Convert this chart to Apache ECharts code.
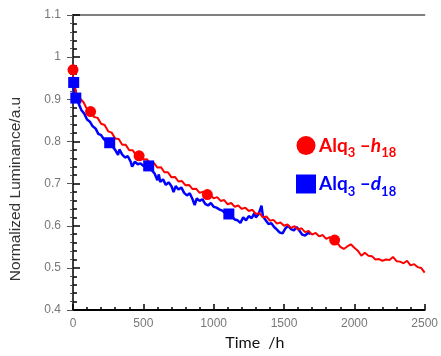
<!DOCTYPE html>
<html>
<head>
<meta charset="utf-8">
<script src="https://cdn.jsdelivr.net/npm/echarts@6/dist/echarts.min.js"></script>
<style>
  html, body { margin: 0; padding: 0; background: #fff; }
  #chart { width: 441px; height: 356px; }
</style>
</head>
<body>
<div id="chart"></div>
<script>
// red curve (Alq3-h18), sampled every 25 h
const redHours = [];
for (let h = 0; h <= 2500; h += 25) redHours.push(h);
const redValues = [
  0.955, 0.912, 0.902, 0.893, 0.876, 0.872, 0.858, 0.856, 0.842, 0.839,
  0.824, 0.821, 0.807, 0.806, 0.792, 0.792, 0.779, 0.779, 0.767, 0.768,
  0.757, 0.758, 0.747, 0.749, 0.738, 0.739, 0.727, 0.727, 0.715, 0.716,
  0.705, 0.706, 0.696, 0.697, 0.687, 0.688, 0.678, 0.681, 0.673, 0.674,
  0.665, 0.668, 0.659, 0.661, 0.651, 0.654, 0.645, 0.648, 0.640, 0.643,
  0.635, 0.638, 0.628, 0.630, 0.620, 0.622, 0.612, 0.614, 0.605, 0.608,
  0.600, 0.603, 0.595, 0.599, 0.591, 0.594, 0.585, 0.588, 0.579, 0.583,
  0.575, 0.578, 0.569, 0.573, 0.566, 0.561, 0.550, 0.545, 0.551, 0.556,
  0.548, 0.541, 0.529, 0.536, 0.529, 0.528, 0.520, 0.521, 0.517, 0.520,
  0.519, 0.526, 0.516, 0.515, 0.511, 0.517, 0.506, 0.509, 0.502, 0.500,
  0.489
];

// blue curve (Alq3-d18)
const blueHours = [
  0, 10, 20, 40, 60, 80, 100, 120, 140, 160, 180, 200, 220, 240, 261, 280, 300, 320, 330, 350,
  370, 390, 410, 420, 440, 460, 480, 500, 538, 560, 580, 600, 610, 620, 640, 660, 680, 700, 715, 730,
  750, 770, 790, 810, 830, 850, 865, 880, 900, 920, 940, 960, 980, 1000, 1020, 1040, 1060, 1080, 1108, 1130,
  1150, 1170, 1190, 1210, 1230, 1250, 1270, 1290, 1300, 1320, 1340, 1350, 1370, 1390, 1410, 1430, 1450, 1470, 1490, 1510,
  1530, 1550, 1570, 1590, 1610, 1630, 1650, 1670, 1690
];
const blueValues = [
  0.940, 0.915, 0.903, 0.890, 0.874, 0.866, 0.852, 0.847, 0.836, 0.831, 0.818, 0.815, 0.805, 0.800, 0.797, 0.788, 0.780, 0.768, 0.781, 0.769,
  0.762, 0.765, 0.752, 0.740, 0.752, 0.746, 0.748, 0.742, 0.742, 0.732, 0.724, 0.708, 0.722, 0.704, 0.710, 0.697, 0.703, 0.694, 0.680, 0.694,
  0.686, 0.691, 0.678, 0.672, 0.677, 0.663, 0.649, 0.665, 0.659, 0.663, 0.652, 0.648, 0.654, 0.645, 0.643, 0.639, 0.636, 0.631, 0.628, 0.622,
  0.615, 0.613, 0.607, 0.620, 0.613, 0.623, 0.618, 0.630, 0.620, 0.628, 0.648, 0.623, 0.613, 0.604, 0.606, 0.597, 0.591, 0.584, 0.582, 0.594,
  0.600, 0.592, 0.589, 0.597, 0.588, 0.579, 0.577, 0.583, 0.581
];

// marker points
const redMarkerHours = [0, 125, 470, 955, 1860];
const redMarkerValues = [0.970, 0.871, 0.766, 0.674, 0.566];
const blueMarkerHours = [5, 20, 261, 538, 1108];
const blueMarkerValues = [0.940, 0.903, 0.797, 0.742, 0.628];

const xTicks = { min: 0, max: 2500, interval: 500 };
const yTicks = { min: 0.4, max: 1.1, interval: 0.1 };

const RED = '#ff0000';
const BLUE = '#0000ff';
const zip = (xs, ys) => xs.map((x, i) => [x, ys[i]]);

const chart = echarts.init(document.getElementById('chart'));

const labelFont = { color: '#777', fontSize: 12, fontFamily: 'Liberation Sans, Arial, sans-serif' };
const legendRich = (c) => ({
  fontFamily: 'Lato, sans-serif', fontWeight: 'bold', color: c
});

chart.setOption({
  animation: false,
  backgroundColor: '#fff',
  grid: { left: 73, right: 7, top: 15, bottom: 41 },
  // y axis title, placed by hand since nameTextStyle padding would not move it cleanly
  graphic: [{
    type: 'text', x: 16, y: 189, rotation: Math.PI / 2,
    style: {
      text: 'Normalized Luminance/a.u', align: 'center', verticalAlign: 'middle',
      font: '15.5px "Liberation Sans", Arial, sans-serif', fill: '#333'
    }
  }],
  xAxis: [{
    type: 'value', position: 'bottom',
    min: xTicks.min, max: xTicks.max, interval: xTicks.interval,
    axisLine: { lineStyle: { color: '#000', width: 2 } },
    axisTick: { inside: true, length: 6, lineStyle: { color: '#000', width: 1.5 } },
    minorTick: { show: true, splitNumber: 5, length: 3, lineStyle: { color: '#000', width: 1.5 } },
    axisLabel: Object.assign({ margin: 8, formatter: (v) => String(v) }, labelFont),
    splitLine: { show: false },
    name: 'Time  /h', nameLocation: 'middle', nameGap: 24,
    nameTextStyle: { fontFamily: 'Lato, sans-serif', fontSize: 16, color: '#111', padding: [0, 0, 0, 12] }
  }, {
    type: 'value', position: 'top',
    min: xTicks.min, max: xTicks.max, interval: xTicks.interval,
    axisLine: { lineStyle: { color: '#555', width: 1.5 } },
    axisTick: { show: false }, axisLabel: { show: false }, splitLine: { show: false }
  }],
  yAxis: [{
    type: 'value', position: 'left',
    min: yTicks.min, max: yTicks.max, interval: yTicks.interval,
    axisLine: { lineStyle: { color: '#000', width: 2 } },
    axisTick: { inside: true, length: 7, lineStyle: { color: '#000', width: 1.5 } },
    minorTick: { show: true, splitNumber: 5, length: 4, lineStyle: { color: '#000', width: 1.5 } },
    axisLabel: Object.assign({ margin: 12 }, labelFont),
    splitLine: { show: false }
  }, {
    type: 'value', position: 'right',
    min: yTicks.min, max: yTicks.max, interval: yTicks.interval,
    axisLine: { lineStyle: { color: '#555', width: 1.5 } },
    axisTick: { inside: true, length: 6, lineStyle: { color: '#555' } },
    minorTick: { show: true, splitNumber: 5, length: 3, lineStyle: { color: '#555' } },
    axisLabel: { show: false }, splitLine: { show: false }
  }],
  legend: {
    orient: 'vertical', left: 291, top: 131, itemGap: 15,
    itemWidth: 20, itemHeight: 19,
    data: [
      { name: 'h18', icon: 'circle' },
      { name: 'd18', icon: 'rect' }
    ],
    formatter: (name) => name === 'h18'
      ? '{ra|Alq}{rs|3}{ra| –}{ri|h}{rs|18}'
      : '{ba|Alq}{bs|3}{ba| –}{bi|d}{bs|18}',
    textStyle: {
      padding: [0, 0, 0, -2],
      rich: {
        ra: Object.assign({ fontSize: 19, lineHeight: 22 }, legendRich(RED)),
        ri: Object.assign({ fontSize: 19, lineHeight: 22, fontStyle: 'italic' }, legendRich(RED)),
        rs: Object.assign({ fontSize: 13, lineHeight: 13, verticalAlign: 'bottom', padding: [0, 0, -3, 0] }, legendRich(RED)),
        ba: Object.assign({ fontSize: 19, lineHeight: 22 }, legendRich(BLUE)),
        bi: Object.assign({ fontSize: 19, lineHeight: 22, fontStyle: 'italic' }, legendRich(BLUE)),
        bs: Object.assign({ fontSize: 13, lineHeight: 13, verticalAlign: 'bottom', padding: [0, 0, -3, 0] }, legendRich(BLUE))
      }
    }
  },
  series: [
    {
      name: 'h18-line', type: 'line', data: zip(redHours, redValues),
      showSymbol: false, lineStyle: { color: RED, width: 2 }, itemStyle: { color: RED }, z: 3
    },
    {
      name: 'd18-line', type: 'line', data: zip(blueHours, blueValues),
      showSymbol: false, lineStyle: { color: BLUE, width: 2.5 }, itemStyle: { color: BLUE }, z: 2
    },
    {
      name: 'h18', type: 'scatter', data: zip(redMarkerHours, redMarkerValues),
      symbol: 'circle', symbolSize: 11, clip: false, itemStyle: { color: RED, opacity: 1 }, z: 5
    },
    {
      name: 'd18', type: 'scatter', data: zip(blueMarkerHours, blueMarkerValues),
      symbol: 'rect', symbolSize: 11, clip: false, itemStyle: { color: BLUE, opacity: 1 }, z: 4
    }
  ]
});
</script>
</body>
</html>
